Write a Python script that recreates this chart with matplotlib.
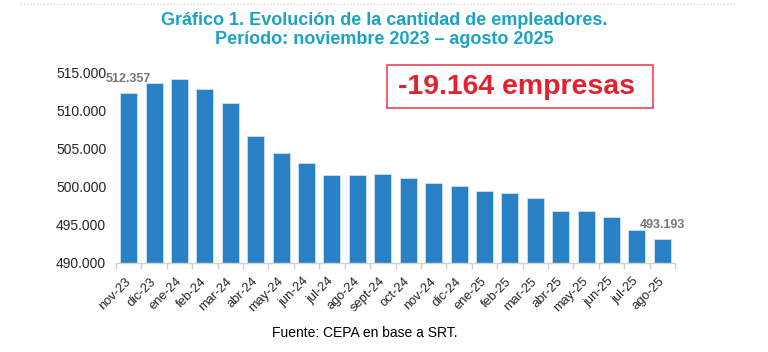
import matplotlib
matplotlib.use("Agg")
import matplotlib.pyplot as plt
from matplotlib.ticker import FuncFormatter, FixedLocator
from matplotlib.patches import Rectangle
import numpy as np

months = ["nov-23", "dic-23", "ene-24", "feb-24", "mar-24", "abr-24", "may-24",
          "jun-24", "jul-24", "ago-24", "sept-24", "oct-24", "nov-24", "dic-24",
          "ene-25", "feb-25", "mar-25", "abr-25", "may-25", "jun-25", "jul-25", "ago-25"]
employers = [512357, 513650, 514250, 512850, 511000, 506700, 504450,
             503200, 501600, 501580, 501750, 501200, 500500, 500100,
             499400, 499250, 498500, 496800, 496780, 496000, 494300, 493193]
labelled = {0: "512.357", 21: "493.193"}
y_ticks = [490000, 495000, 500000, 505000, 510000, 515000]

title = "Gráfico 1. Evolución de la cantidad de empleadores.\nPeríodo: noviembre 2023 – agosto 2025"
box_text = "-19.164 empresas"
source = "Fuente: CEPA en base a SRT."

fig = plt.figure(figsize=(7.68, 3.52), dpi=100)
ax = fig.add_axes([0.151, 0.253, 0.728, 0.540])

x = np.arange(len(months))
ax.bar(x, employers, width=0.67, bottom=0, color="#2A80C4", edgecolor="#cfe0f0", linewidth=0.6, zorder=2)
ax.set_ylim(490000, 515000)
ax.set_xlim(-0.5, len(months) - 0.5)

for s in ["top", "right", "left"]:
    ax.spines[s].set_visible(False)
ax.spines["bottom"].set_color("#d0d0d0")
ax.spines["bottom"].set_linewidth(1.0)

ax.yaxis.set_major_locator(FixedLocator(y_ticks))
ax.yaxis.set_major_formatter(FuncFormatter(lambda v, p: f"{int(v):,}".replace(",", ".")))
ax.tick_params(axis="y", length=0, labelsize=10, labelcolor="#262626", pad=7)
for t in ax.get_yticklabels():
    t.set_fontfamily(["Liberation Sans", "DejaVu Sans"])

ax.set_xticks(x)
ax.set_xticklabels(months, rotation=45, ha="right", va="center", rotation_mode="anchor",
                   fontsize=9.3, color="#262626", family=["Liberation Sans", "DejaVu Sans"])
ax.tick_params(axis="x", which="major", length=0, pad=12)
ax.set_xticks(np.arange(-0.5, len(months), 1.0), minor=True)
ax.tick_params(axis="x", which="minor", length=4, color="#d0d0d0", width=1.0)

for i, txt in labelled.items():
    ax.annotate(txt, (x[i], employers[i]), xytext=(0, 10), textcoords="offset points",
                ha="center", va="center", fontsize=9, fontweight="bold", color="#767676",
                family=["Liberation Sans", "DejaVu Sans"])

fig.text(0.5, 0.915, title, ha="center", va="center", fontsize=13, fontweight="bold",
         color="#1AA3C5", family=["Liberation Sans", "DejaVu Sans"],
         linespacing=1.2)

fig.add_artist(Rectangle((0.504, 0.693), 0.346, 0.122, transform=fig.transFigure,
                         facecolor="white", edgecolor="#E8474F", linewidth=1.2))
fig.text(0.672, 0.754, box_text, ha="center", va="center", fontsize=20.5, fontweight="bold",
         color="#E2232F", family=["Liberation Sans", "DejaVu Sans"])

fig.text(0.475, 0.054, source, ha="center", va="center", fontsize=10, color="#000000",
         family=["Liberation Sans", "DejaVu Sans"])

fig.add_artist(plt.Line2D([0.026, 0.957], [0.99, 0.99], transform=fig.transFigure,
                          color="#c8c8c8", linewidth=0.8, linestyle=(0, (1, 2))))

fig.savefig("out.png", dpi=100)
